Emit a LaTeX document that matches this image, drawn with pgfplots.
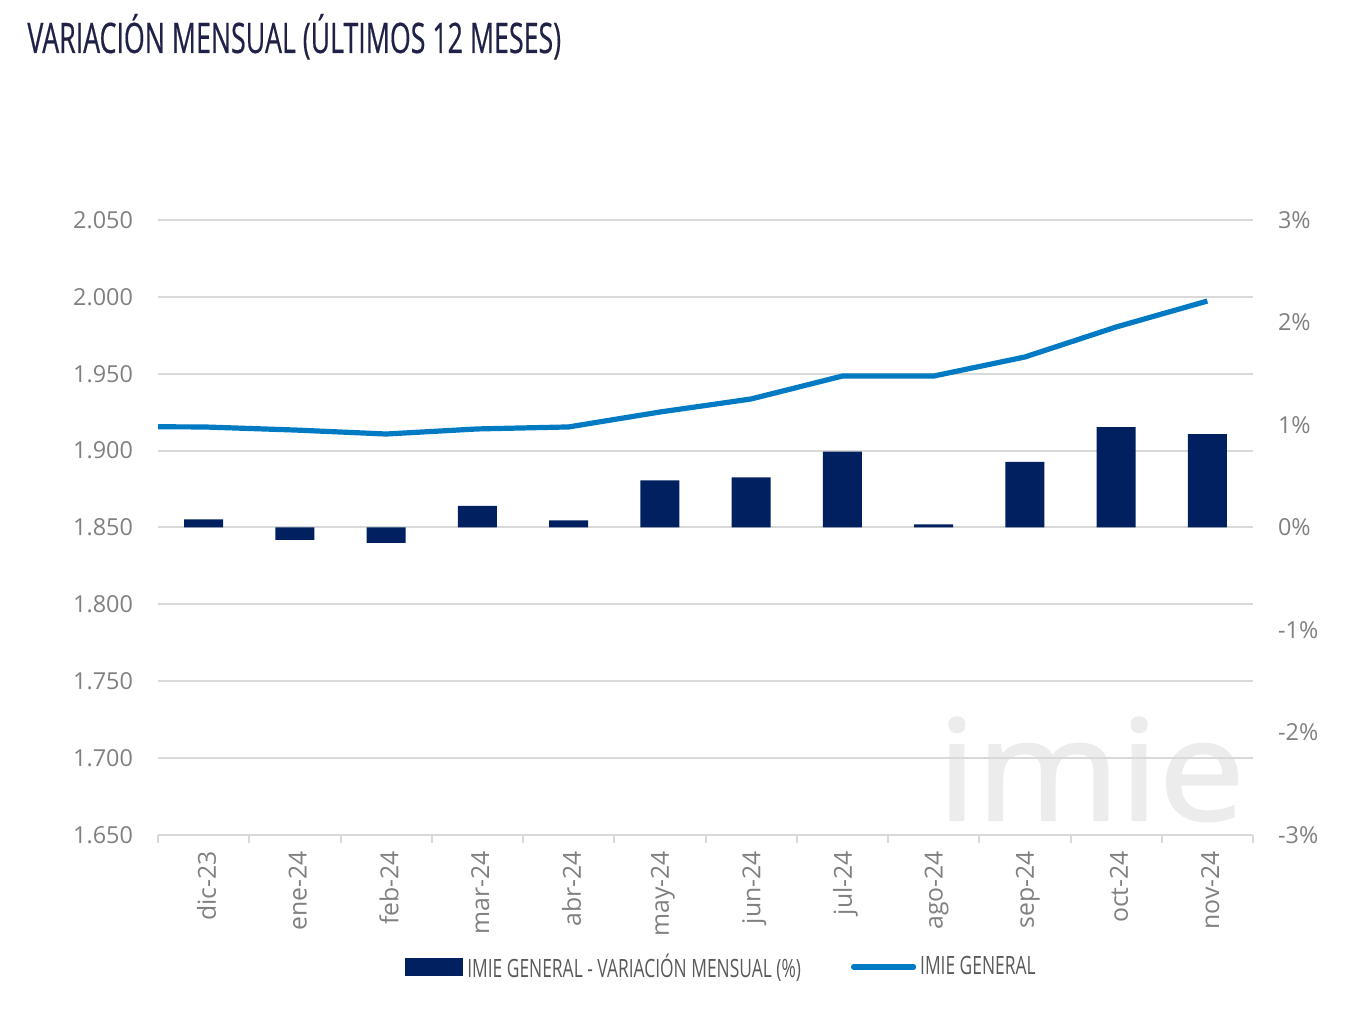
\documentclass[border=0pt]{standalone}
\usepackage{fontspec}
\setmainfont{Open Sans}
\newfontfamily\condfont[FakeStretch=0.69]{Open Sans}
\newfontfamily\titlefont[FakeStretch=0.637,FakeBold=0.4]{Open Sans}
\newfontfamily\wmfont[FakeBold=1.5]{Open Sans}
\usepackage{pgfplots}
\pgfplotsset{compat=1.18}
\definecolor{navy}{RGB}{0,32,96}
\definecolor{lineblue}{RGB}{0,122,194}
\definecolor{gridgray}{RGB}{217,217,217}
\definecolor{labgray}{RGB}{128,128,128}
\definecolor{titlenavy}{RGB}{31,34,70}
\definecolor{leggray}{RGB}{89,89,89}
\definecolor{wmgray}{RGB}{236,236,236}
\pgfplotstableread{
x v
-0.5 1915.5
0 1915.4
1 1913.4
2 1910.8
3 1914.1
4 1915.4
5 1925.1
6 1933.6
7 1948.5
8 1948.5
9 1960.9
10 1980.4
11 1997.3
}\indexdata
\pgfplotstableread{
x v
0 0.08
1 -0.12
2 -0.15
3 0.21
4 0.07
5 0.46
6 0.49
7 0.74
8 0.03
9 0.64
10 0.98
11 0.91
}\vardata
\begin{document}
\begin{tikzpicture}[x=1pt,y=1pt]
\path[use as bounding box] (0,0) rectangle (674.5,505);
\node[anchor=base west, inner sep=0pt, text=titlenavy] at (13.5,478.5) {\titlefont\fontsize{21}{25}\selectfont VARIACIÓN MENSUAL (ÚLTIMOS 12 MESES)};
\node[anchor=base west, inner sep=0pt, text=wmgray] at (468.5,95) {\scalebox{1.1}[1.0]{\wmfont\fontsize{70}{70}\selectfont imie}};
\begin{axis}[
  at={(79pt,87.5pt)}, anchor=south west, scale only axis,
  width=547.5pt, height=307.5pt,
  xmin=-0.5, xmax=11.5, ymin=1650, ymax=2050,
  axis x line*=bottom, axis y line*=left,
  y axis line style={draw=none},
  x axis line style={draw=gridgray, line width=1pt},
  xtick={0,...,11},
  xticklabels={dic-23,ene-24,feb-24,mar-24,abr-24,may-24,jun-24,jul-24,ago-24,sep-24,oct-24,nov-24},
  minor xtick={-0.5,0.5,...,11.5},
  major tick length=0pt, minor tick length=4pt, tick align=outside,
  minor tick style={draw=gridgray, line width=1pt},
  ytick={1650,1700,...,2050},
  ymajorgrids, grid style={draw=gridgray, line width=1pt},
  /pgf/number format/assume math mode=true,
  /pgf/number format/1000 sep={.},
  yticklabel style={font=\fontsize{11.7}{14}\selectfont, text=labgray, xshift=-9pt},
  xticklabel style={font=\fontsize{12.4}{14}\selectfont, text=labgray, rotate=90, anchor=east, xshift=-4.5pt, yshift=-1.5pt},
]
\addplot[lineblue, line width=2.6pt, line join=round] table[x=x,y=v] {\indexdata};
\end{axis}
\begin{axis}[
  at={(79pt,87.5pt)}, anchor=south west, scale only axis,
  width=547.5pt, height=307.5pt,
  xmin=-0.5, xmax=11.5, ymin=-3, ymax=3,
  axis x line=none, axis y line*=right,
  y axis line style={draw=none},
  ytick={-3,...,3}, major tick length=0pt,
  /pgf/number format/assume math mode=true,
  yticklabel={\pgfmathprintnumber{\tick}\%},
  yticklabel style={font=\fontsize{11.7}{14}\selectfont, text=labgray, xshift=9pt},
  legend columns=2,
  legend style={at={(0.5155,-0.2146)}, anchor=center, draw=none, fill=none,
    font=\condfont\fontsize{12.6}{15}\selectfont, text=leggray,
    /tikz/every even column/.append style={column sep=23pt}},
]
\addplot[ybar, bar width=19.5pt, bar shift=0pt, fill=navy, draw=none,
  legend image code/.code={\fill[navy] (0pt,-4.5pt) rectangle (29pt,4.5pt);}]
  table[x=x,y=v] {\vardata};
\addlegendentry{IMIE GENERAL - VARIACIÓN MENSUAL (\%)}
\addlegendimage{legend image code/.code={\draw[lineblue, line width=2.6pt, line cap=round] (0pt,0pt) -- (30pt,0pt);}}
\addlegendentry{IMIE GENERAL}
\end{axis}
\end{tikzpicture}
\end{document}
